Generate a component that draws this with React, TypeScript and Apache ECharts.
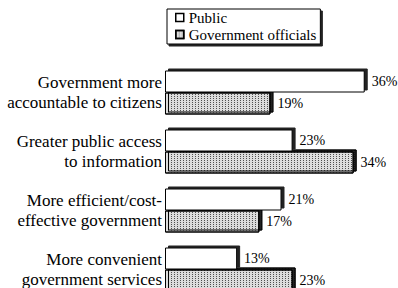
import React, { useEffect, useRef } from "react";
import * as echarts from "echarts";

const categories = [
  "Government more\naccountable to citizens",
  "Greater public access\nto information",
  "More efficient/cost-\neffective government",
  "More convenient\ngovernment services",
];
const seriesNames = ["Public", "Government officials"];
const publicValues = [36, 23, 21, 13];
const officialsValues = [19, 34, 17, 23];

const FONT = "'Liberation Serif', 'Times New Roman', serif";

export default function App() {
  const ref = useRef<HTMLDivElement>(null);
  useEffect(() => {
    document.body.style.margin = "0";
    const chart = echarts.init(ref.current!, undefined, { renderer: "svg" });
    const shadow = {
      shadowColor: "#222",
      shadowOffsetX: 3,
      shadowOffsetY: -2,
      shadowBlur: 0,
    };
    const labelStyle = {
      show: true,
      position: "right",
      distance: 7,
      formatter: "{c}%",
      fontSize: 14,
      fontFamily: FONT,
      color: "#000",
    };
    chart.setOption({
      animation: false,
      backgroundColor: "#fff",
      legend: {
        data: seriesNames,
        orient: "vertical",
        left: 167,
        top: 9,
        icon: "rect",
        itemWidth: 8,
        itemHeight: 8,
        itemGap: 2,
        padding: [1, 4, 2, 8],
        borderColor: "#000",
        borderWidth: 1,
        shadowColor: "#222",
        shadowOffsetX: 2,
        shadowOffsetY: 2,
        shadowBlur: 0,
        backgroundColor: "#fff",
        itemStyle: {
          borderColor: "#000",
          borderWidth: 1.5,
          shadowColor: "rgba(0,0,0,0)",
          shadowOffsetX: 0,
          shadowOffsetY: 0,
        },
        textStyle: { fontSize: 15, fontFamily: FONT, color: "#000" },
      },
      grid: { left: 165, right: 0, top: 63, height: 236, containLabel: false },
      xAxis: { type: "value", min: 0, max: 42, show: false },
      yAxis: {
        type: "category",
        inverse: true,
        data: categories,
        axisLine: { show: false },
        axisTick: { show: false },
        splitLine: { show: false },
        axisLabel: {
          fontSize: 17,
          fontFamily: FONT,
          color: "#000",
          margin: 3,
          lineHeight: 19.5,
          align: "right",
        },
      },
      series: [
        {
          name: seriesNames[0],
          type: "bar",
          data: publicValues,
          barWidth: 22,
          barGap: "0%",
          z: 3,
          itemStyle: { color: "#fff", borderColor: "#000", borderWidth: 1, ...shadow },
          label: labelStyle,
        },
        {
          name: seriesNames[1],
          type: "bar",
          data: officialsValues,
          barWidth: 22,
          barGap: "0%",
          z: 2,
          itemStyle: {
            color: "#dcdcdc",
            borderColor: "#000",
            borderWidth: 1,
            decal: {
              symbol: "rect",
              symbolSize: 1,
              color: "rgba(0,0,0,0.4)",
              dashArrayX: [1, 2],
              dashArrayY: [1, 1],
              rotation: 0,
            },
            ...shadow,
          },
          label: labelStyle,
        },
      ],
    });
    return () => chart.dispose();
  }, []);
  return (
    <div style={{ position: "fixed", left: 0, top: 0, width: 398, height: 288, overflow: "hidden" }}>
      <div ref={ref} style={{ width: 398, height: 301 }} />
    </div>
  );
}
